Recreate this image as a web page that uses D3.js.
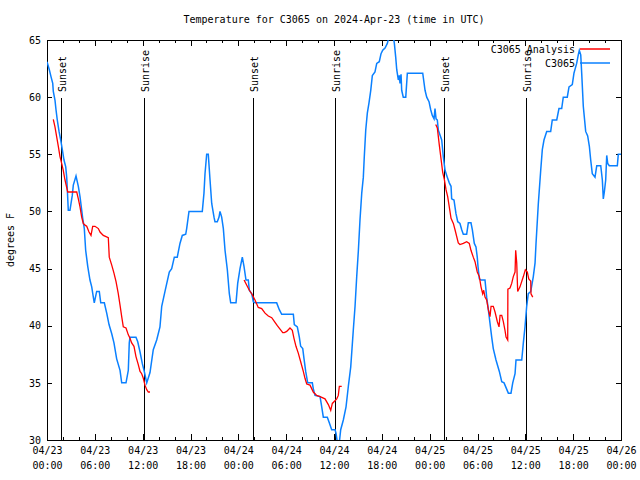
<!DOCTYPE html>
<html><head><meta charset="utf-8">
<script src="https://cdn.jsdelivr.net/npm/d3@7"></script>
<style>
html,body{margin:0;padding:0;background:#fff;}
svg{display:block;font-family:"DejaVu Sans Mono","Liberation Mono",monospace;}
</style>
</head><body>
<svg id="chart" width="640" height="480"></svg>
<script>
// ---- data (hours after 2024-04-23 00:00 UTC) ----
const stationName = "C3065";
const analysisName = "C3065 Analysis";
const titleText = "Temperature for C3065 on 2024-Apr-23 (time in UTC)";
const yLabel = "degrees F";

const stationHours = [0,0.29,0.50,0.72,0.79,1.00,1.13,1.29,1.51,1.72,1.92,2.13,2.35,2.47,2.55,2.67,2.88,3.17,3.30,3.64,3.93,4.14,4.48,4.68,4.85,5.11,5.39,5.61,5.81,5.93,6.23,6.56,6.74,7.19,7.49,7.78,8.12,8.40,8.74,9.16,9.37,9.91,10.20,10.32,10.41,11.16,11.38,11.67,11.95,12.17,12.51,12.92,13.33,13.76,14.17,14.39,14.80,15.34,15.64,15.97,16.34,16.68,16.97,17.40,17.52,17.81,19.48,19.69,19.82,20.03,20.23,20.45,20.66,20.95,21.07,21.36,21.58,21.70,21.91,22.12,22.33,22.62,22.87,23.04,23.71,23.92,24.21,24.50,24.71,24.96,25.25,25.38,25.68,25.88,26.09,28.81,29.14,29.44,30.90,31.02,31.40,31.65,31.82,32.08,32.24,32.45,32.70,33.28,33.40,33.62,34.25,34.46,34.66,35.16,35.41,35.71,36.13,36.25,36.42,36.67,36.84,37.17,37.51,37.80,38.10,38.42,38.64,38.85,39.05,39.26,39.48,39.68,39.80,39.98,40.18,40.39,40.61,40.81,41.14,41.36,41.68,41.90,42.11,42.40,42.69,42.90,43.44,43.57,43.74,43.87,44.07,44.19,44.28,44.41,44.49,44.69,45.00,45.20,47.13,47.42,47.63,47.92,48.13,48.33,48.55,48.67,48.80,48.96,49.09,49.51,49.71,49.93,50.21,50.46,50.68,50.76,51.05,51.30,51.52,51.80,52.02,52.22,52.64,52.85,53.18,53.35,53.60,53.81,53.97,54.06,54.23,54.44,54.94,55.15,55.36,55.57,55.78,55.98,56.32,56.74,57.04,57.33,57.87,58.20,58.42,58.71,58.83,59.55,59.75,59.96,60.17,60.37,60.68,61.00,61.22,61.34,61.63,61.93,62.13,62.34,62.68,63.18,63.38,63.94,64.22,64.56,64.76,65.26,65.48,65.89,66.10,66.44,66.64,66.77,66.95,67.07,67.27,67.57,67.82,68.03,68.20,68.40,68.74,68.96,69.46,69.66,69.78,69.91,70.08,70.21,70.33,70.53,71.54,71.66,72.00];
const stationTemps = [63.1,62.4,61.8,61.2,60.5,59.75,58.9,58,57,56.25,55.4,54.5,53.9,53,51.9,50.1,50.1,51.4,52.3,53.1,52.2,51.3,49.4,48.5,46.6,45.2,44,43.4,42.5,42,43,43,42,42,41.1,40.1,39.3,38.5,37.1,36.1,35,35,36.1,38.5,39,39,38.6,37.7,36.7,36.1,35,35.9,37.9,38.75,39.9,41.7,43,44.7,45,46,46,47.2,47.9,48,48.5,50,50,51.6,53.3,55,55,52.75,50.7,49.5,49.1,49.1,49.5,50,49.5,48.5,46.6,44.9,42.8,42,42,43.7,45,46,45.2,44,44,43.1,42.8,42.1,42,42,41.4,41,41,40.1,39.9,39,38.2,38,37.1,36,35,35,34.5,33.9,33.8,32.9,32,32,31.5,30.9,30.9,30.6,29.8,29.8,30.9,31.75,32.9,34.7,36.4,39.6,41.7,44.3,46.5,49.25,51.6,53,54.8,57.1,58.6,59.5,60.6,61.9,62.2,62.95,63.1,63.8,64.1,64.3,64.7,65.3,65.3,64.7,63.5,62.4,61.5,61.9,61.2,62,60.6,60,60,62.1,62.1,60.6,60,59.6,58.9,58.4,58.1,59,58.1,58,57.1,56.25,54.8,53.6,53,52.5,52.2,51.1,51,49.8,49.1,48.95,48.4,48,48,49,49,48.4,47.2,46.9,46,45.2,44.1,44,44,42.5,41.4,40.2,39,38,37,36,35.1,35,34.1,34.1,35,35.8,37,37,38.5,39.9,41.7,42.8,43,44.3,45.5,47.2,50.7,53.6,55.4,56.25,57,57,58,58,59,59,60,60,60.9,61.1,62.1,62.95,63.7,64.1,63.7,62.1,59.2,57,56.6,55.7,54.5,53.3,53,54,54,52.75,51.1,51.7,52.75,54.9,54.2,54,54,55,55];

// null marks a gap in the analysis series
const analysisHours = [0.79,1.00,1.22,1.42,1.63,1.84,2.04,2.26,2.60,3.73,3.93,4.14,4.35,4.55,4.77,4.98,5.27,5.52,5.73,6.02,6.44,6.65,7.06,7.69,7.81,8.12,8.40,8.66,8.94,9.16,9.37,9.57,9.91,10.20,10.41,10.62,10.91,11.16,11.45,11.67,11.88,12.08,12.29,12.51,12.71,12.92,
 18,
 24.72,25.01,25.38,25.68,26.09,26.50,26.93,27.35,27.76,28.19,28.60,28.89,29.23,29.57,29.77,30.07,30.48,30.77,30.98,31.23,31.52,31.82,32.15,32.36,32.58,32.99,33.40,33.83,34.25,34.87,35.29,35.59,35.79,36.00,36.34,36.54,36.67,36.97,
 42,
 48.76,48.96,49.21,49.39,49.64,49.84,50.05,50.26,50.46,50.68,50.97,51.18,51.59,51.80,52.22,52.64,52.97,53.18,53.47,53.69,53.97,54.23,54.44,54.65,54.78,54.94,55.15,55.36,55.57,55.70,55.98,56.20,56.49,56.70,56.83,57.04,57.24,57.45,57.58,57.79,57.81,58.08,58.29,58.49,58.71,58.79,58.92,59.04,59.33,59.75,60.00,60.25,60.43,60.68,60.71,60.93];
const analysisTemps = [58.05,57.4,56.5,55.7,54.8,54.2,53.6,52.75,51.7,51.7,51.1,50.4,49.5,48.95,48.8,48.7,48.2,47.9,48.7,48.7,48.5,48.2,47.9,47.7,46,45.3,44.6,43.85,42.8,41.8,40.8,39.9,39.8,39.2,38.9,38.5,38.2,37.3,36.6,36,35.8,35.4,34.8,34.4,34.2,34.2,
 null,
 44,43.6,43.1,42.8,42.25,41.6,41.5,41.1,40.85,40.7,40.3,40,39.7,39.4,39.4,39.5,39.8,39.6,38.9,38.2,37.6,36.85,36,35.4,34.9,34.8,34.2,33.9,33.8,33.6,33.1,32.6,33.2,33.35,33.6,33.9,34.7,34.7,
 null,
 57.6,57.3,55.8,54.8,53.4,52.8,51.9,51.3,50.4,49.4,48.95,48.4,47.25,47.1,47.2,47.35,47.2,46.6,46,45.6,44.7,44.3,43.4,42.8,43.1,42.5,42.25,41.4,40.8,41.7,41.7,41.2,40.35,39.9,40.9,40.9,40.35,39.6,39,38.75,43.2,43.3,43.7,44.3,44.7,46.6,45.5,43,43.4,44.3,44.9,44.7,44.1,43.9,42.8,42.5];

const sunEventHours = [1.77, 12.17, 25.78, 36.13, 49.8, 60.1];
const sunEventLabels = ["Sunset","Sunrise","Sunset","Sunrise","Sunset","Sunrise"];
const yTicks = [30,35,40,45,50,55,60,65];
const xMajorStepHours = 6;
const xMinorStepHours = 2;

// ---- setup ----
const t0 = Date.UTC(2024,3,23,0,0);
const toDate = h => new Date(t0 + h*3600e3);
const L=47, R=621, T=40, B=440;
const svg = d3.select("#chart");
const x = d3.scaleUtc().domain([toDate(0), toDate(72)]).range([L,R]);
const y = d3.scaleLinear().domain([30,65]).range([B,T]);

const majorTicks = d3.range(0, 72.001, xMajorStepHours).map(toDate);
const minorTicks = d3.range(0, 72.001, xMinorStepHours).map(toDate);
const fmtDate = d3.utcFormat("%m/%d"), fmtTime = d3.utcFormat("%H:%M");

// title
svg.append("text").attr("x",(L+R)/2).attr("y",23).attr("text-anchor","middle")
  .attr("font-size",10).text(titleText);
// y label
svg.append("text").attr("transform","translate(14,240) rotate(-90)")
  .attr("text-anchor","middle").attr("font-size",10).text(yLabel);

const axStyle = g => { g.select(".domain").remove(); g.selectAll("line").attr("stroke","#000").attr("shape-rendering","crispEdges"); g.attr("font-family",null).attr("font-size",10); };

// bottom
svg.append("g").attr("transform",`translate(0,${B})`)
  .call(d3.axisBottom(x).tickValues(minorTicks).tickSize(-3).tickFormat("")).call(axStyle);
const bot = svg.append("g").attr("transform",`translate(0,${B})`)
  .call(d3.axisBottom(x).tickValues(majorTicks).tickSize(-6).tickPadding(7).tickFormat("")).call(axStyle);
bot.selectAll(".tick text").each(function(d){
  const t = d3.select(this).attr("fill","#000");
  t.append("tspan").attr("x",0).attr("dy","0.71em").text(fmtDate(d));
  t.append("tspan").attr("x",0).attr("dy","1.5em").text(fmtTime(d));
});
// top
svg.append("g").attr("transform",`translate(0,${T})`)
  .call(d3.axisTop(x).tickValues(minorTicks).tickSize(-3).tickFormat("")).call(axStyle);
svg.append("g").attr("transform",`translate(0,${T})`)
  .call(d3.axisTop(x).tickValues(majorTicks).tickSize(-6).tickFormat("")).call(axStyle);
// left
svg.append("g").attr("transform",`translate(${L},0)`)
  .call(d3.axisLeft(y).tickValues(yTicks).tickSize(-5).tickPadding(6)).call(axStyle)
  .selectAll("text").attr("fill","#000");
// right
svg.append("g").attr("transform",`translate(${R},0)`)
  .call(d3.axisRight(y).tickValues(yTicks).tickSize(-5).tickFormat("")).call(axStyle);

// border
svg.append("rect").attr("x",L).attr("y",T).attr("width",R-L).attr("height",B-T)
  .attr("fill","none").attr("stroke","#000").attr("shape-rendering","crispEdges");

// clip
svg.append("clipPath").attr("id","plotclip").append("rect")
  .attr("x",L).attr("y",T).attr("width",R-L).attr("height",B-T);

// sun events
const sun = svg.append("g");
sunEventHours.forEach((h,i)=>{
  const xx = Math.round(x(toDate(h)))+0.5;
  sun.append("line").attr("x1",xx).attr("x2",xx).attr("y1",98).attr("y2",B)
    .attr("stroke","#000").attr("stroke-width",1);
  sun.append("text").attr("transform",`translate(${xx+4},92) rotate(-90)`)
    .attr("font-size",10).text(sunEventLabels[i]);
});

// series
const stationData = stationHours.map((h,i)=>({d:toDate(h), v:stationTemps[i]}));
const analysisData = analysisHours.map((h,i)=>({d:toDate(h), v:analysisTemps[i]}));
const line = d3.line().defined(p=>p.v!=null).x(p=>x(p.d)).y(p=>y(p.v));
const plot = svg.append("g").attr("clip-path","url(#plotclip)");
plot.append("path").datum(stationData).attr("d",line).attr("fill","none")
  .attr("stroke","#0a80ff").attr("stroke-width",1.5);
plot.append("path").datum(analysisData).attr("d",line).attr("fill","none")
  .attr("stroke","#ff0000").attr("stroke-width",1.3);

// legend
const leg = svg.append("g").attr("font-size",10);
[[analysisName,"#ff0000",49],[stationName,"#0a80ff",63]].forEach(([n,c,yy])=>{
  leg.append("text").attr("x",575).attr("y",yy+3.5).attr("text-anchor","end").text(n);
  leg.append("line").attr("x1",580).attr("x2",610).attr("y1",yy).attr("y2",yy)
    .attr("stroke",c).attr("stroke-width",1.5);
});
</script>
</body></html>
